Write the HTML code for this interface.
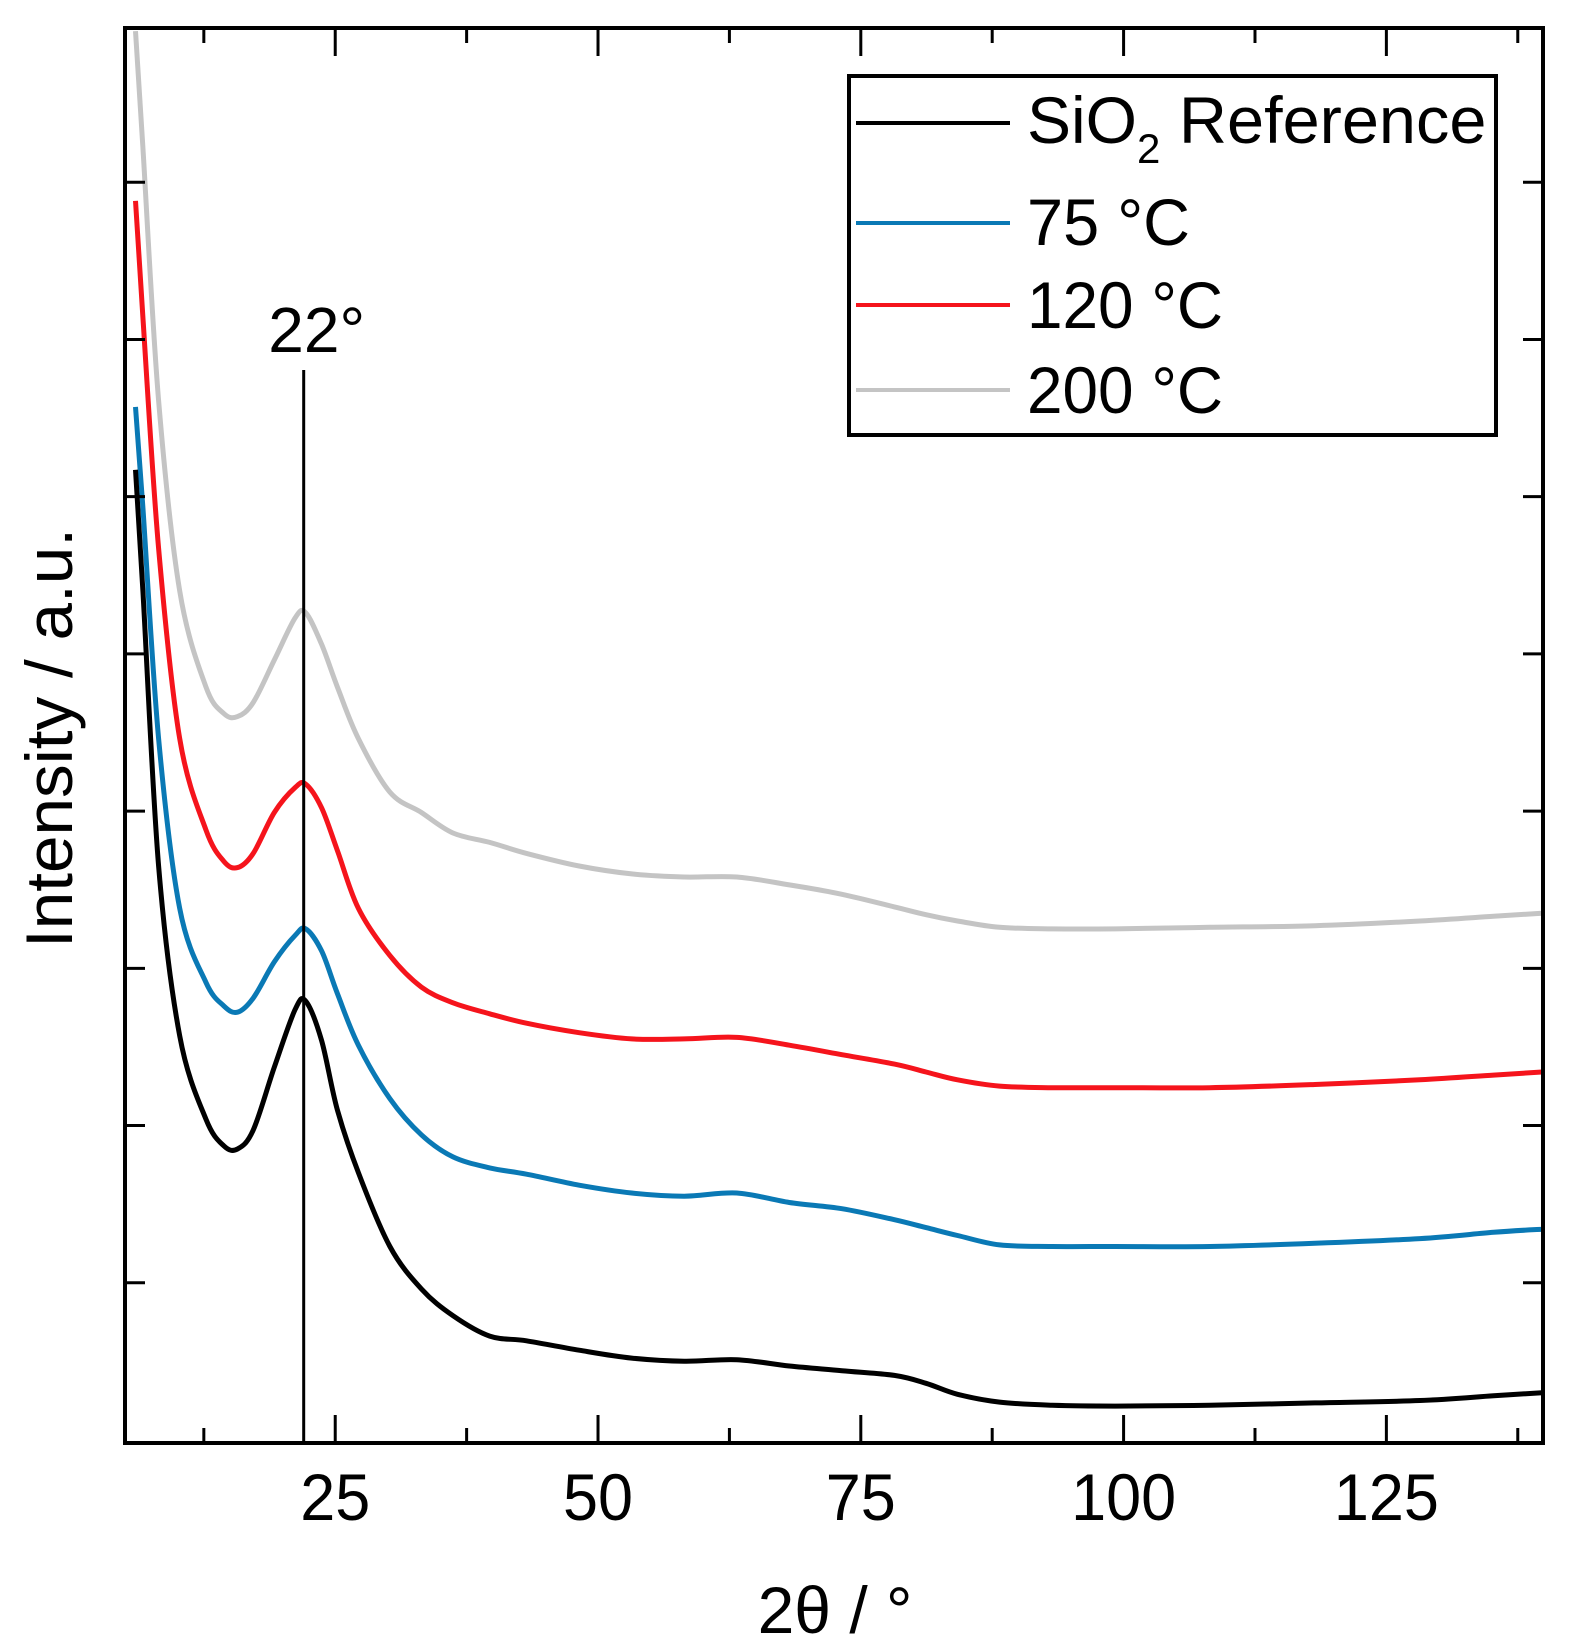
<!DOCTYPE html>
<html><head><meta charset="utf-8"><style>
html,body{margin:0;padding:0;background:#fff;}
svg{display:block;font-family:"Liberation Sans",Arial,sans-serif;}
</style></head><body>
<svg id="chart" width="1586" height="1651" viewBox="0 0 1586 1651" xmlns="http://www.w3.org/2000/svg">
<g id="plot"></g>
</svg>
<script>
const xTicksMajor = [25, 50, 75, 100, 125];
const xTicksMinor = [12.5, 37.5, 62.5, 87.5, 112.5, 137.5];
const yTicks = [1, 2, 3, 4, 5, 6, 7, 8];
const xRef = [6,6.7,8.2,10.2,12.7,14.4,15.7,17.2,19.2,21.2,22.2,23.7,25.2,27.2,30.2,33.2,36.2,39.7,43.2,48.2,53.2,58.2,63.2,68.2,73.2,78.2,81.2,84.2,88.2,93.2,99.2,108.2,118.2,128.2,135.2,139.8];
const blackY = [6.19,5.42,3.67,2.59,2.06,1.89,1.87,1.99,2.39,2.76,2.81,2.56,2.12,1.72,1.25,0.98,0.81,0.68,0.65,0.59,0.54,0.52,0.53,0.49,0.46,0.43,0.38,0.31,0.26,0.24,0.235,0.24,0.255,0.27,0.30,0.32];
const blueY = [6.59,5.95,4.48,3.40,2.93,2.78,2.74,2.83,3.06,3.23,3.27,3.13,2.86,2.53,2.19,1.96,1.82,1.75,1.71,1.64,1.59,1.57,1.59,1.53,1.49,1.42,1.37,1.32,1.26,1.25,1.25,1.25,1.27,1.30,1.34,1.36];
const redY = [7.90,7.16,5.69,4.48,3.90,3.70,3.66,3.75,4.01,4.17,4.19,4.04,3.77,3.40,3.10,2.90,2.80,2.73,2.67,2.61,2.57,2.57,2.58,2.53,2.47,2.41,2.36,2.31,2.27,2.26,2.26,2.26,2.28,2.31,2.34,2.36];
const grayY = [8.98,8.24,6.63,5.42,4.81,4.64,4.62,4.71,4.98,5.25,5.28,5.08,4.81,4.48,4.14,4.01,3.88,3.82,3.75,3.67,3.62,3.60,3.60,3.55,3.49,3.41,3.36,3.32,3.28,3.27,3.27,3.28,3.29,3.32,3.35,3.37];
const seriesNames = ["SiO2 Reference","75 °C","120 °C","200 °C"];
const peakX = 22;

const NS = "http://www.w3.org/2000/svg";
const L = 125, R = 1543, T = 28, B = 1443;
const xMin = 5.0, xMax = 139.9, yMin = 0, yMax = 9;
function sx(v){ return L + (v - xMin) / (xMax - xMin) * (R - L); }
function sy(v){ return B - (v - yMin) / (yMax - yMin) * (B - T); }
const g = document.getElementById('plot');
function mk(tag, attrs, parent){ const e = document.createElementNS(NS, tag); for (const k in attrs) e.setAttribute(k, attrs[k]); (parent||g).appendChild(e); return e; }

const clip = mk('clipPath', {id:'clip'});
mk('rect', {x:L, y:T, width:R-L, height:B-T}, clip);

function drawSeries(ys, color, name){
  const pts = xRef.map((x,i)=>[sx(x), sy(ys[i])]);
  let d = 'M' + pts[0][0].toFixed(1) + ',' + pts[0][1].toFixed(1);
  for (let i = 0; i < pts.length - 1; i++) {
    const p0 = pts[Math.max(0,i-1)], p1 = pts[i], p2 = pts[i+1], p3 = pts[Math.min(pts.length-1,i+2)];
    const c1 = [p1[0] + (p2[0]-p0[0])/6, p1[1] + (p2[1]-p0[1])/6];
    const c2 = [p2[0] - (p3[0]-p1[0])/6, p2[1] - (p3[1]-p1[1])/6];
    d += 'C' + c1[0].toFixed(1) + ',' + c1[1].toFixed(1) + ' ' + c2[0].toFixed(1) + ',' + c2[1].toFixed(1) + ' ' + p2[0].toFixed(1) + ',' + p2[1].toFixed(1);
  }
  const p = mk('path', {d:d, fill:'none', stroke:color, 'stroke-width':5, 'stroke-linejoin':'round', 'clip-path':'url(#clip)'});
  
  
}
drawSeries(grayY, '#c4c4c4', 'series-200c');
drawSeries(redY, '#f5141c', 'series-120c');
drawSeries(blueY, '#0a79b5', 'series-75c');
drawSeries(blackY, '#000000', 'series-sio2-reference');

const pl = mk('line', {x1:sx(peakX), x2:sx(peakX), y1:370, y2:B, stroke:'#000', 'stroke-width':3});


const pt = mk('text', {x:sx(peakX)+13, y:352, 'font-size':64, 'text-anchor':'middle'});
pt.textContent = peakX + '°';



xTicksMajor.forEach(v=>{
  const X = sx(v);
  mk('line', {x1:X, x2:X, y1:B, y2:B-28, stroke:'#000', 'stroke-width':3});
  mk('line', {x1:X, x2:X, y1:T, y2:T+28, stroke:'#000', 'stroke-width':3});
  const t = mk('text', {x:X, y:1520, 'font-size':66, 'text-anchor':'middle', textLength: String(v).length*35, lengthAdjust:'spacingAndGlyphs'});
  t.textContent = v;
  
  
});
xTicksMinor.forEach(v=>{
  const X = sx(v);
  mk('line', {x1:X, x2:X, y1:B, y2:B-15, stroke:'#000', 'stroke-width':3});
  mk('line', {x1:X, x2:X, y1:T, y2:T+15, stroke:'#000', 'stroke-width':3});
});
yTicks.forEach(v=>{
  const Y = sy(v) - 3;
  mk('line', {x1:L, x2:L+20, y1:Y, y2:Y, stroke:'#000', 'stroke-width':3});
  mk('line', {x1:R, x2:R-20, y1:Y, y2:Y, stroke:'#000', 'stroke-width':3});
});

const fr = mk('rect', {x:L, y:T, width:R-L, height:B-T, fill:'none', stroke:'#000', 'stroke-width':4});



const xt = mk('text', {x:835, y:1633, 'font-size':66, 'text-anchor':'middle'});
xt.textContent = '2θ / °';


const yt = mk('text', {x:0, y:0, 'font-size':66, 'text-anchor':'middle', transform:'translate(72,738) rotate(-90)', textLength:420, lengthAdjust:'spacingAndGlyphs'});
yt.textContent = 'Intensity / a.u.';



const lg = mk('g', {});


mk('rect', {x:849, y:76, width:647, height:359, fill:'#fff', stroke:'#000', 'stroke-width':4}, lg);
const colors = ['#000000','#0a79b5','#f5141c','#c4c4c4'];
const lineYs = [123, 223, 305, 390];
const baseYs = [143, 245, 328, 413];
const widths = [null, 163, 196, 196];
seriesNames.forEach((n,i)=>{
  const e = mk('g', {}, lg);
  
  
  mk('line', {x1:856, x2:1010, y1:lineYs[i], y2:lineYs[i], stroke:colors[i], 'stroke-width':4}, e);
  const t = mk('text', {x:1027, y:baseYs[i], 'font-size':66}, e);
  if (i === 0) {
    t.innerHTML = 'SiO<tspan font-size="42" dy="20">2</tspan><tspan dy="-20" textLength="326" lengthAdjust="spacingAndGlyphs"> Reference</tspan>';
  } else {
    t.textContent = n;
    t.setAttribute('textLength', widths[i]);
    t.setAttribute('lengthAdjust', 'spacingAndGlyphs');
  }
});
</script>
</body></html>
